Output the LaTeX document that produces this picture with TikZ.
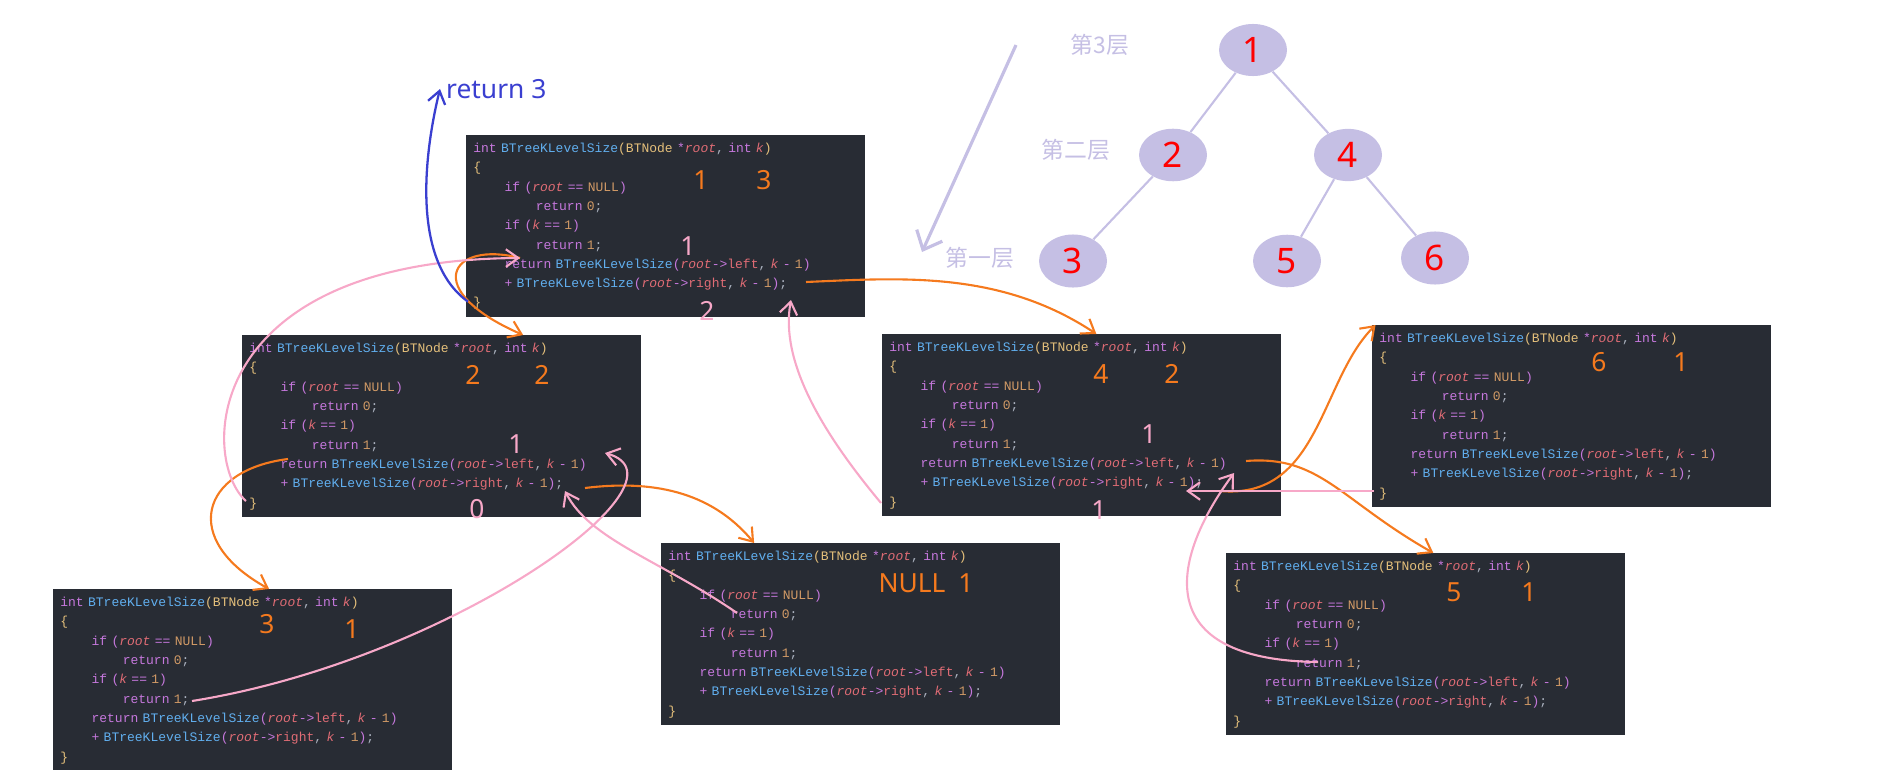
\documentclass[tikz,border=0pt]{standalone}
\usepackage{fontspec}
\usepackage{xcolor}
\usetikzlibrary{arrows.meta,shapes.geometric}
\setmainfont{Noto Sans}
\setmonofont{Liberation Mono}
\newfontfamily\cjk{Noto Sans CJK SC}
\definecolor{kw}{HTML}{C678DD}
\definecolor{fn}{HTML}{61AFEF}
\definecolor{ty}{HTML}{E5C07B}
\definecolor{vr}{HTML}{E06C75}
\definecolor{nm}{HTML}{D19A66}
\definecolor{pl}{HTML}{ABB2BF}
\definecolor{bg}{HTML}{282C34}
\definecolor{lav}{HTML}{C5BFE4}
\definecolor{ora}{HTML}{F57A1E}
\definecolor{pnk}{HTML}{F7A8C8}
\definecolor{blu}{HTML}{3A3FD0}
\newcommand\ind{\hspace*{2.4em}}
\newcommand\rt{\textcolor{vr}{\textit{root}}}
\newcommand\kk{\textcolor{vr}{\textit{k}}}
\newcommand\kcode{%
\textcolor{kw}{int} \textcolor{fn}{BTreeKLevelSize}\textcolor{ty}{(BTNode} \textcolor{kw}{*}\rt\textcolor{pl}{,} \textcolor{kw}{int} \kk\textcolor{ty}{)}\\
\textcolor{ty}{\{}\\
\ind\textcolor{kw}{if (}\rt\textcolor{kw}{\ ==\ }\textcolor{nm}{NULL}\textcolor{kw}{)}\\
\ind\ind\textcolor{kw}{return} \textcolor{nm}{0}\textcolor{pl}{;}\\
\ind\textcolor{kw}{if (}\kk\textcolor{kw}{\ ==\ }\textcolor{nm}{1}\textcolor{kw}{)}\\
\ind\ind\textcolor{kw}{return} \textcolor{nm}{1}\textcolor{pl}{;}\\
\ind\textcolor{kw}{return} \textcolor{fn}{BTreeKLevelSize}\textcolor{kw}{(}\rt\textcolor{kw}{->}\textcolor{vr}{left}\textcolor{pl}{,} \kk\textcolor{kw}{\ -\ }\textcolor{nm}{1}\textcolor{kw}{)}\\
\ind\textcolor{kw}{+} \textcolor{fn}{BTreeKLevelSize}\textcolor{kw}{(}\rt\textcolor{kw}{->}\textcolor{vr}{right}\textcolor{pl}{,} \kk\textcolor{kw}{\ -\ }\textcolor{nm}{1}\textcolor{kw}{)}\textcolor{pl}{;}\\
\textcolor{ty}{\}}}
\tikzset{
  codebox/.style={fill=bg, anchor=north west, minimum width=7.96cm, minimum height=3.64cm,
    text width=7.7cm, align=left, inner sep=4pt, font=\ttfamily\fontsize{7.4}{11}\selectfont},
  cnt/.style={text=ora, font=\fontsize{15}{15}\selectfont},
  ret/.style={text=pnk, font=\fontsize{15}{15}\selectfont},
  tnode/.style={ellipse, fill=lav, minimum width=1.36cm, minimum height=1cm, text=red, font=\fontsize{20}{20}\selectfont},
  lvl/.style={text=lav, font=\cjk\fontsize{13}{13}\selectfont},
  call/.style={draw=ora, line width=1.2pt, -{Straight Barb[length=7pt,width=10pt]}},
  back/.style={draw=pnk, line width=1.2pt, -{Straight Barb[length=7pt,width=10pt]}},
}
\begin{document}
\begin{tikzpicture}[x=0.02cm, y=-0.02cm]
\useasboundingbox (0,0) rectangle (1878,770);

% code boxes
\node[codebox] (A) at (466,135) {\kcode};
\node[codebox] (B) at (242,335) {\kcode};
\node[codebox] (C) at (882,334) {\kcode};
\node[codebox] (D) at (1372,325) {\kcode};
\node[codebox] (E) at (661,543) {\kcode};
\node[codebox] (F) at (1226,553) {\kcode};
\node[codebox] (G) at (53,589) {\kcode};

% numbers written on the boxes
\node[cnt] (a1) at (701,180) {1}; \node[cnt] (a2) at (764,180) {3};
\node[ret] (a3) at (688,246) {1}; \node[ret] (a4) at (707,311) {2};
\node[cnt] (b1) at (473,375) {2}; \node[cnt] (b2) at (542,375) {2};
\node[ret] (b3) at (516,444) {1}; \node[ret] (b4) at (477,509) {0};
\node[cnt] (c1) at (1101,374) {4}; \node[cnt] (c2) at (1172,374) {2};
\node[ret] (c3) at (1149,434) {1}; \node[ret] (c4) at (1099,510) {1};
\node[cnt] (d1) at (1599,362) {6}; \node[cnt] (d2) at (1681,362) {1};
\node[cnt] (e1) at (912,583) {NULL}; \node[cnt] (e2) at (966,583) {1};
\node[cnt] (f1) at (1454,592) {5}; \node[cnt] (f2) at (1529,592) {1};
\node[cnt] (g1) at (267,624) {3}; \node[cnt] (g2) at (352,629) {1};

% call points
\coordinate (aL) at (520,258); \coordinate (aR) at (806,282);
\coordinate (bL) at (288,459); \coordinate (bR) at (585,488);
\coordinate (cL) at (1246,461); \coordinate (cR) at (1220,491);
\coordinate (bC) at (605,453); \coordinate (bE) at (565,491);
\coordinate (aE) at (791,300); \coordinate (cE) at (1234,473);
\coordinate (cF) at (1186,491);
\coordinate (gR) at (192,701); \coordinate (eR) at (737,613);
\coordinate (bX) at (246,501); \coordinate (cX) at (881,503);
\coordinate (fR) at (1318,662); \coordinate (dX) at (1374,491);

% calls
\draw[call] (aL) .. controls (450,240) and (420,290) .. ([xshift=160]B.north west);
\draw[call] (aR) .. controls (900,278) and (1000,270) .. ([xshift=122]C.north west);
\draw[call] (bL) .. controls (200,470) and (180,540) .. ([xshift=123]G.north west);
\draw[call] (bR) .. controls (650,480) and (710,490) .. ([xshift=53]E.north west);
\draw[call] (cL) .. controls (1320,455) and (1340,500) .. ([xshift=118]F.north west);
\draw[call] (cR) .. controls (1320,500) and (1320,380) .. ([xshift=2]D.north west);

% returns
\draw[back] (gR) .. controls (450,660) and (700,480) .. (bC);
\draw[back] (eR) .. controls (660,560) and (590,540) .. (bE);
\draw[back] (bX) .. controls (200,460) and (200,260) .. (aL);
\draw[back] (cX) .. controls (820,430) and (780,360) .. (aE);
\draw[back] (fR) .. controls (1150,660) and (1170,560) .. (cE);
\draw[back] (dX) .. controls (1300,491) and (1230,491) .. (cF);

% return 3
\node[text=blu, font=\fontsize{15}{15}\selectfont, anchor=west] (r3) at (440,89) {return 3};
\draw[draw=blu, line width=1.3pt, -{Straight Barb[length=7pt,width=10pt]}]
  ([shift={(2,-16)}]A.south west) .. controls (410,260) and (425,150) .. (r3.west);

% tree
\node[tnode] (n1) at (1253,50) {1};
\node[tnode] (n2) at (1173,155) {2};
\node[tnode] (n4) at (1348,155) {4};
\node[tnode] (n3) at (1073,261) {3};
\node[tnode] (n5) at (1287,261) {5};
\node[tnode] (n6) at (1435,258) {6};
\draw[lav, line width=1.2pt] (n1) -- (n2) (n1) -- (n4) (n2) -- (n3) (n4) -- (n5) (n4) -- (n6);
\node[lvl] (l3) at (1100,45) {第3层};
\node[lvl] (l2) at (1076,150) {第二层};
\node[lvl] (l1) at (980,258) {第一层};
\coordinate (lt) at (1016,45);
\draw[lav, line width=1.8pt, -{Straight Barb[length=9pt,width=16pt]}] (lt) -- (922,252);
\end{tikzpicture}
\end{document}
